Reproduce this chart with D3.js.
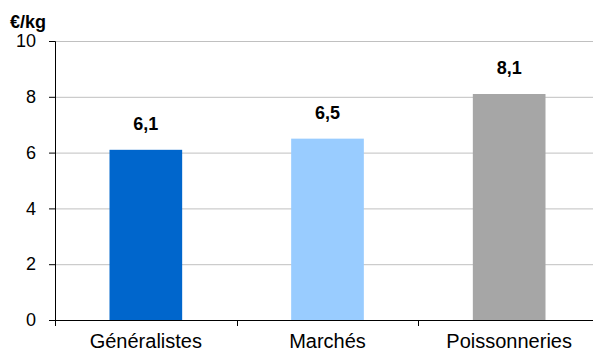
<!DOCTYPE html>
<html>
<head>
<meta charset="utf-8">
<script src="https://cdn.jsdelivr.net/npm/d3@7"></script>
<style>
  body { margin: 0; background: #fff; }
  text { font-family: "Liberation Sans", Arial, sans-serif; }
</style>
</head>
<body>
<script>
// data
const categories = ["Généralistes", "Marchés", "Poissonneries"];
const prices = [6.1, 6.5, 8.1];
const barColors = ["#0066cc", "#99ccff", "#a6a6a6"];
const yTicks = [0, 2, 4, 6, 8, 10];

const width = 593, height = 353;
const margin = { top: 41, right: -7, bottom: 33, left: 55 };
const plotW = width - margin.left - margin.right;
const plotH = height - margin.top - margin.bottom;

const svg = d3.select("body").append("svg")
  .attr("width", width)
  .attr("height", height);

const g = svg.append("g")
  .attr("transform", "translate(" + margin.left + "," + margin.top + ")");

const x = d3.scaleBand()
  .domain(categories)
  .range([0, plotW])
  .paddingInner(0.6)
  .paddingOuter(0.3);

const y = d3.scaleLinear()
  .domain([0, 10])
  .range([plotH, 0]);

// gridlines
g.selectAll(".grid")
  .data(yTicks.filter(t => t > 0))
  .enter()
  .append("line")
  .attr("x1", 0)
  .attr("x2", plotW)
  .attr("y1", d => y(d) + 0.5)
  .attr("y2", d => y(d) + 0.5)
  .attr("stroke", "#c0c0c0")
  .attr("stroke-width", 1);

// bars
g.selectAll(".bar")
  .data(prices)
  .enter()
  .append("rect")
  .attr("x", (d, i) => x(categories[i]))
  .attr("y", d => y(d))
  .attr("width", x.bandwidth())
  .attr("height", d => plotH - y(d))
  .attr("fill", (d, i) => barColors[i]);

// value labels
g.selectAll(".val")
  .data(prices)
  .enter()
  .append("text")
  .attr("x", (d, i) => x(categories[i]) + x.bandwidth() / 2)
  .attr("y", d => y(d) - 20)
  .attr("text-anchor", "middle")
  .attr("font-size", "18px")
  .attr("font-weight", "bold")
  .attr("fill", "#000")
  .text(d => d.toFixed(1).replace(".", ","));

// y axis
const yAxis = g.append("g")
  .call(d3.axisLeft(y).tickValues(yTicks).tickSize(6).tickPadding(13));
yAxis.select(".domain").attr("stroke", "#000");
yAxis.selectAll(".tick line").attr("stroke", "#000");
yAxis.selectAll("text")
  .attr("font-size", "18px")
  .attr("fill", "#000");

// x axis: ticks at band boundaries
const xAxis = g.append("g")
  .attr("transform", "translate(0," + plotH + ")");
xAxis.append("line")
  .attr("x1", 0).attr("x2", plotW)
  .attr("y1", 0.5).attr("y2", 0.5)
  .attr("stroke", "#000");
const step = plotW / categories.length;
xAxis.selectAll(".xtick")
  .data(d3.range(categories.length + 1))
  .enter()
  .append("line")
  .attr("x1", d => Math.round(d * step) + 0.5)
  .attr("x2", d => Math.round(d * step) + 0.5)
  .attr("y1", 0)
  .attr("y2", 6)
  .attr("stroke", "#000");
xAxis.selectAll(".xlab")
  .data(categories)
  .enter()
  .append("text")
  .attr("x", d => x(d) + x.bandwidth() / 2)
  .attr("y", 28)
  .attr("text-anchor", "middle")
  .attr("font-size", "20px")
  .attr("fill", "#000")
  .text(d => d);

// unit label
svg.append("text")
  .attr("x", 10)
  .attr("y", 28)
  .attr("font-size", "18px")
  .attr("font-weight", "bold")
  .text("€/kg");
</script>
</body>
</html>
